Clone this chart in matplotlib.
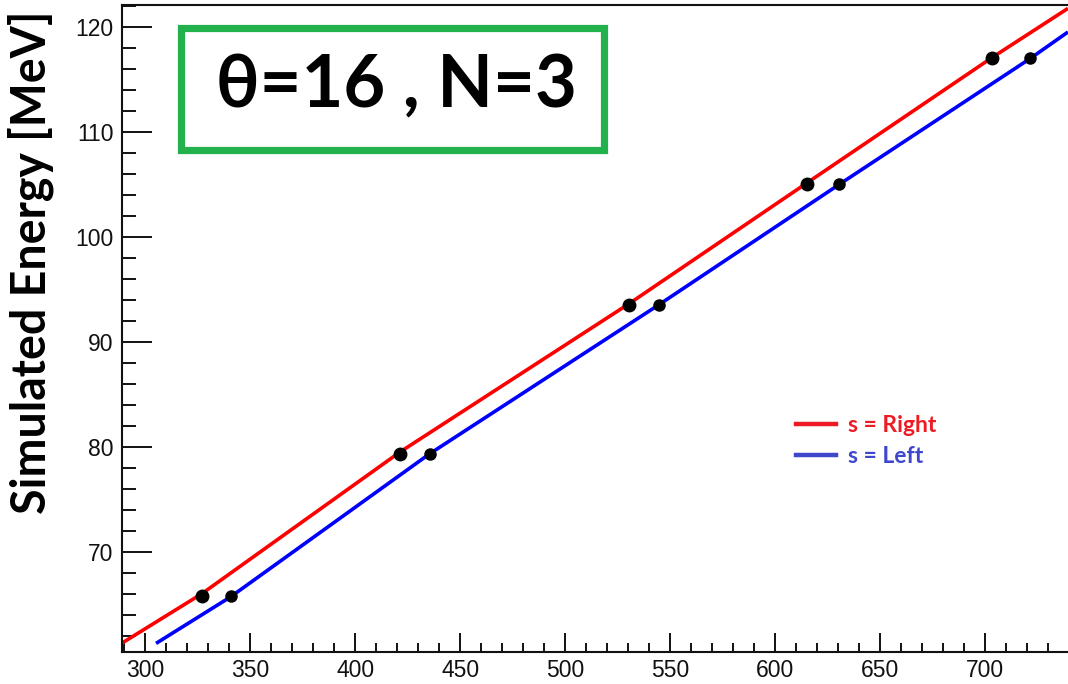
import matplotlib.pyplot as plt
from matplotlib.patches import Rectangle
from matplotlib.ticker import MultipleLocator

# Energie simulee pour chaque paire de points (s = Right / s = Left)
energy = [65.75, 79.35, 93.5, 105.0, 117.0]
adc_right = [327.0, 421.5, 530.5, 615.0, 703.5]
adc_left = [341.0, 435.5, 544.5, 630.5, 721.5]

# Courbes d'etalonnage (points releves le long de chaque trace)
fit_right_x = [289.0, 327.0, 421.4, 530.3, 615.0, 703.6, 739.5]
fit_right_y = [61.3, 66.0, 79.5, 93.6, 105.1, 117.1, 121.75]
fit_left_x = [305.2, 340.7, 435.3, 544.5, 630.3, 721.7, 739.5]
fit_left_y = [61.27, 65.7, 79.3, 93.5, 104.95, 117.0, 119.5]

legend_labels = ["s = Right", "s = Left"]
title_text = "θ=16 , N=3"

W, H = 1068, 684
fig = plt.figure(figsize=(W / 100, H / 100), dpi=100)
ax = fig.add_axes([122 / W, (H - 651.7) / H, 1 - 122 / W, (651.7 - 5) / H])

ax.plot(fit_right_x, fit_right_y, color="#ff0000", lw=2.6, solid_capstyle="butt")
ax.plot(fit_left_x, fit_left_y, color="#0000ff", lw=2.6, solid_capstyle="butt")
ax.plot(adc_right, energy, "o", color="black", ms=9, zorder=5)
ax.plot(adc_left, energy, "o", color="black", ms=8, zorder=5)

ax.set_xlim(289.0, 739.5)
ax.set_ylim(60.48, 122.07)

ax.xaxis.set_major_locator(MultipleLocator(50))
ax.xaxis.set_minor_locator(MultipleLocator(10))
ax.yaxis.set_major_locator(MultipleLocator(10))
ax.yaxis.set_minor_locator(MultipleLocator(2))

ax.tick_params(axis="both", which="both", direction="in", width=1.4,
               top=False, right=False, colors="#111111",
               labelsize=16.5, labelfontfamily="Liberation Sans")
ax.tick_params(axis="x", which="major", length=13.7, pad=5)
ax.tick_params(axis="x", which="minor", length=6.5)
ax.tick_params(axis="y", which="major", length=21.6, pad=6)
ax.tick_params(axis="y", which="minor", length=10)

for side in ["left", "bottom", "top"]:
    ax.spines[side].set_linewidth(1.5)
    ax.spines[side].set_color("#111111")
ax.spines["right"].set_visible(False)

fig.text(31 / W, 1 - 262 / H, "Simulated Energy [MeV]", rotation=90,
         ha="center", va="center", fontsize=33.5, fontweight="bold",
         family=["Lato", "DejaVu Sans"])

# encadre vert avec les parametres
fig.patches.append(Rectangle((181 / W, 1 - 149.5 / H), (604 - 181) / W,
                             (149.5 - 28) / H, transform=fig.transFigure,
                             fill=False, edgecolor="#22b14c", lw=5.2))
fig.text(396 / W, 1 - 86 / H, title_text, ha="center", va="center",
         fontsize=52, fontweight="bold",
         family=["Lato", "Open Sans", "DejaVu Sans"])

leg = ax.legend(
    [plt.Line2D([], [], color="#ed1c24", lw=3.2),
     plt.Line2D([], [], color="#3f48cc", lw=3.2)],
    legend_labels, loc="upper left",
    bbox_to_anchor=(796 / W, 1 - 415 / H), bbox_transform=fig.transFigure,
    frameon=False, borderpad=0, borderaxespad=0, handlelength=1.75,
    handletextpad=0.5, labelspacing=0.45,
    prop={"family": "Lato", "weight": "bold", "size": 16.5})
for txt, c in zip(leg.get_texts(), ["#ed1c24", "#3f48cc"]):
    txt.set_color(c)

fig.savefig("out.png", dpi=100)
